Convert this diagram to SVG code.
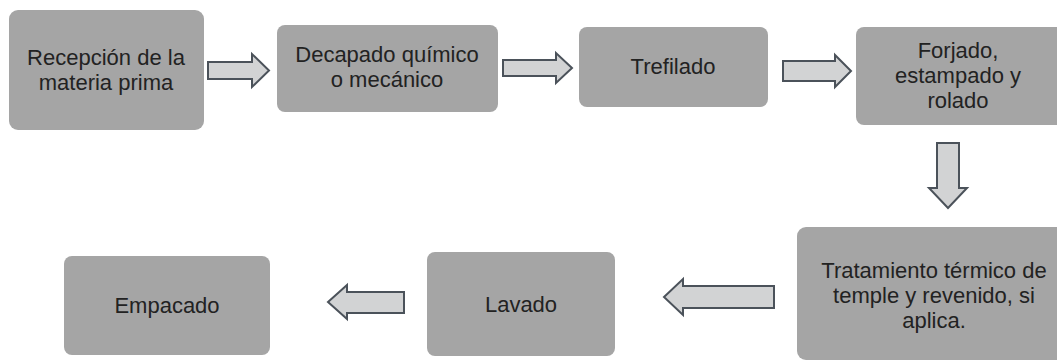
<svg xmlns="http://www.w3.org/2000/svg" width="1057" height="362" viewBox="0 0 1057 362">
<style>
.box{fill:#a5a5a5;}
.arr{fill:#d2d3d4;stroke:#4b525a;stroke-width:2;stroke-linejoin:miter;}
text{font-family:"Liberation Sans",Arial,sans-serif;font-size:22px;fill:#222222;text-anchor:middle;}
</style>
<rect width="1057" height="362" fill="#ffffff"/>
<g id="n1"><rect class="box" x="9" y="10" width="195" height="120" rx="9"/><text x="106" y="65">Recepción de la</text><text x="106" y="90">materia prima</text></g>
<g id="n2"><rect class="box" x="277" y="25" width="221" height="87" rx="8"/><text x="387" y="62">Decapado químico</text><text x="387" y="87">o mecánico</text></g>
<g id="n3"><rect class="box" x="579" y="27" width="189" height="80" rx="8"/><text x="673" y="74">Trefilado</text></g>
<g id="n4"><rect class="box" x="856" y="27" width="210" height="98" rx="8"/><text x="958" y="58">Forjado,</text><text x="958" y="83">estampado y</text><text x="958" y="108">rolado</text></g>
<g id="n5"><rect class="box" x="797" y="227" width="270" height="133" rx="9"/><text x="934" y="278">Tratamiento térmico de</text><text x="934" y="303">temple y revenido, si</text><text x="934" y="328">aplica.</text></g>
<g id="n6"><rect class="box" x="427" y="252" width="188" height="104" rx="8"/><text x="521" y="312">Lavado</text></g>
<g id="n7"><rect class="box" x="64" y="256" width="206" height="99" rx="8"/><text x="167" y="313">Empacado</text></g>
<g id="connectors">
<path class="arr" d="M208,62 H252 V54 L269,70.5 L252,87 V79 H208 Z"/>
<path class="arr" d="M503,60 H556 V53 L572,68 L556,83 V76 H503 Z"/>
<path class="arr" d="M783,61 H835 V55 L851,71 L835,87 V81 H783 Z"/>
<path class="arr" d="M937,143 H959 V188 H967 L948,208 L929,188 H937 Z"/>
<path class="arr" d="M774,286 H683 V279 L664,297 L683,315 V308 H774 Z"/>
<path class="arr" d="M404,292 H347 V285 L328,302 L347,319 V313 H404 Z"/>
</g>
</svg>
